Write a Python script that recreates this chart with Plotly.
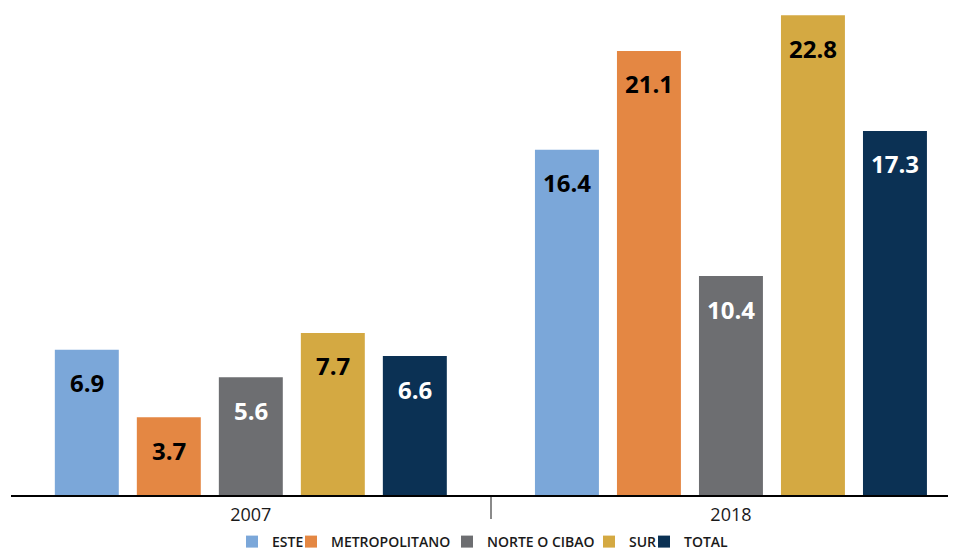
import plotly.graph_objects as go

years = ["2007", "2018"]
regions = ["ESTE", "METROPOLITANO", "NORTE O CIBAO", "SUR", "TOTAL"]
values = {
    "ESTE": [6.9, 16.4],
    "METROPOLITANO": [3.7, 21.1],
    "NORTE O CIBAO": [5.6, 10.4],
    "SUR": [7.7, 22.8],
    "TOTAL": [6.6, 17.3],
}
colors = {
    "ESTE": "#7BA7D9",
    "METROPOLITANO": "#E48743",
    "NORTE O CIBAO": "#6D6E71",
    "SUR": "#D4A942",
    "TOTAL": "#0B3154",
}
label_colors = {
    "ESTE": "#000000",
    "METROPOLITANO": "#000000",
    "NORTE O CIBAO": "#FFFFFF",
    "SUR": "#000000",
    "TOTAL": "#FFFFFF",
}
# left edge (px) of each legend entry's text in the reference
legend_text_px = [269, 328, 484, 626, 681]

bargap = 0.146
slot = (1 - bargap) / len(regions)
page_offset = 8   # body margin of the html page
W, H = 956, 550

fig = go.Figure()
annotations = []
legends = {}
for j, r in enumerate(regions):
    lname = "legend" if j == 0 else "legend%d" % (j + 1)
    fig.add_trace(go.Bar(
        x=years, y=values[r], name=r, legend=lname,
        marker=dict(color=colors[r], line=dict(width=0)),
        hoverinfo="x+y+name",
    ))
    legends[lname] = dict(
        orientation="h", xref="container", yref="container",
        x=(legend_text_px[j] + 3 - 40 - page_offset) / W,
        xanchor="left", y=0, yanchor="bottom",
        font=dict(family="Open Sans", size=14, color="#1a1a1a", weight=600),
        itemwidth=30, bgcolor="rgba(0,0,0,0)",
    )
    for i, v in enumerate(values[r]):
        annotations.append(dict(
            x=i + (j - (len(regions) - 1) / 2) * slot, y=v, xref="x", yref="y",
            text="<b>%.1f</b>" % v, showarrow=False, yanchor="middle", yshift=-33,
            font=dict(family="Open Sans", size=24, color=label_colors[r]),
        ))

fig.update_layout(
    width=W, height=H,
    margin=dict(l=3, r=0, t=0, b=63, autoexpand=False),
    paper_bgcolor="white", plot_bgcolor="white",
    barmode="group", bargap=bargap, bargroupgap=0.22,
    annotations=annotations,
    showlegend=True,
    xaxis=dict(
        type="category", range=[-0.4995, 1.4854],
        showline=True, linecolor="#000000", linewidth=2,
        ticks="outside", tickson="boundaries", ticklen=22, tickcolor="#8a8a8a", tickwidth=2,
        ticklabelstandoff=2,
        tickfont=dict(family="Open Sans", size=18, color="#1a1a1a"),
        showgrid=False, zeroline=False, fixedrange=True,
    ),
    yaxis=dict(range=[0, 23.14], visible=False, showgrid=False, zeroline=False),
    font=dict(family="Open Sans"),
    **legends,
)

fig.write_html("out.html")
